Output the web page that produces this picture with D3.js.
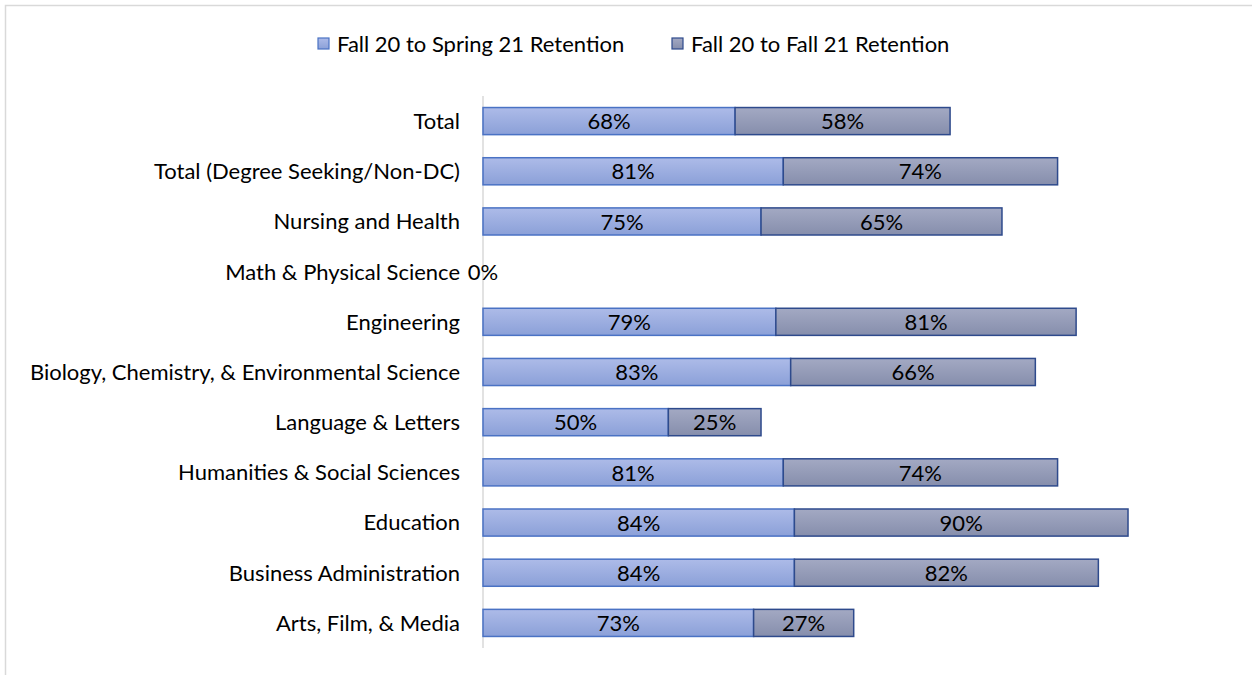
<!DOCTYPE html>
<html><head><meta charset="utf-8">
<script src="https://cdn.jsdelivr.net/npm/d3@7"></script>
<style>body{margin:0;background:#fff}svg{display:block}text{font-family:Lato,"Open Sans",sans-serif}</style>
</head><body><svg id="c" width="1252" height="675"></svg>
<script>
const categories = ["Total","Total (Degree Seeking/Non-DC)","Nursing and Health","Math & Physical Science","Engineering","Biology, Chemistry, & Environmental Science","Language & Letters","Humanities & Social Sciences","Education","Business Administration","Arts, Film, & Media"];
const springRetention = [68,81,75,0,79,83,50,81,84,84,73];
const fallRetention = [58,74,65,0,81,66,25,74,90,82,27];
const seriesNames = ["Fall 20 to Spring 21 Retention","Fall 20 to Fall 21 Retention"];

const svg = d3.select("#c");
const defs = svg.append("defs");
function grad(id, c1, c2){
  const g = defs.append("linearGradient").attr("id", id).attr("x1",0).attr("y1",0).attr("x2",0).attr("y2",1);
  g.append("stop").attr("offset","0%").attr("stop-color",c1);
  g.append("stop").attr("offset","100%").attr("stop-color",c2);
}
grad("g1","#adbbe8","#8ba0d8");
grad("g2","#a3a9c3","#868eac");
const fills = ["url(#g1)","url(#g2)"];
const strokes = ["#4a72c4","#2e4a8c"];

svg.append("rect").attr("x",5.5).attr("y",5.5).attr("width",1260).attr("height",700)
  .attr("fill","none").attr("stroke","#d9d9d9").attr("stroke-width",1.5);

const x = d3.scaleLinear().domain([0,100]).range([483, 483+370.7]);
const y = d3.scaleBand().domain(categories).range([96,648]).paddingInner(0.46).paddingOuter(0.23);

svg.append("line").attr("x1",483).attr("x2",483).attr("y1",96).attr("y2",648)
  .attr("stroke","#d9d9d9").attr("stroke-width",1.5);

svg.append("g").selectAll("text").data(categories).join("text")
  .attr("x",460).attr("y",d=>y(d)+y.bandwidth()/2).attr("dy","0.36em")
  .attr("text-anchor","end").attr("font-size",22).attr("fill","#000").text(d=>d);

const stacked = categories.map((c,i)=>({c, a:springRetention[i], b:fallRetention[i]}));
const segs = [];
stacked.forEach(d=>{
  segs.push({c:d.c, s:0, x0:0, x1:d.a, v:d.a});
  segs.push({c:d.c, s:1, x0:d.a, x1:d.a+d.b, v:d.b});
});
const bars = segs.filter(d=>d.v>0);
svg.append("g").selectAll("rect").data(bars).join("rect")
  .attr("x",d=>x(d.x0)).attr("y",d=>y(d.c)).attr("width",d=>x(d.x1)-x(d.x0)).attr("height",y.bandwidth())
  .attr("fill",d=>fills[d.s]).attr("stroke",d=>strokes[d.s]).attr("stroke-width",1.5);

svg.append("g").selectAll("text").data(bars).join("text")
  .attr("x",d=>(x(d.x0)+x(d.x1))/2).attr("y",d=>y(d.c)+y.bandwidth()/2).attr("dy","0.37em")
  .attr("text-anchor","middle").attr("font-size",22).attr("fill","#000").text(d=>d.v+"%");

const zeros = stacked.filter(d=>d.a===0);
svg.append("g").selectAll("text").data(zeros).join("text")
  .attr("x",x(0)).attr("y",d=>y(d.c)+y.bandwidth()/2).attr("dy","0.37em")
  .attr("text-anchor","middle").attr("font-size",22).attr("fill","#000").text(d=>d.a+"%");

const leg = [{x:318},{x:672}];
seriesNames.forEach((n,i)=>{
  svg.append("rect").attr("x",leg[i].x).attr("y",38).attr("width",11).attr("height",11)
    .attr("fill",fills[i]).attr("stroke",strokes[i]).attr("stroke-width",1.2);
  svg.append("text").attr("x",leg[i].x+19).attr("y",44).attr("dy","0.36em")
    .attr("font-size",22).attr("fill","#000").text(n);
});
</script></body></html>
